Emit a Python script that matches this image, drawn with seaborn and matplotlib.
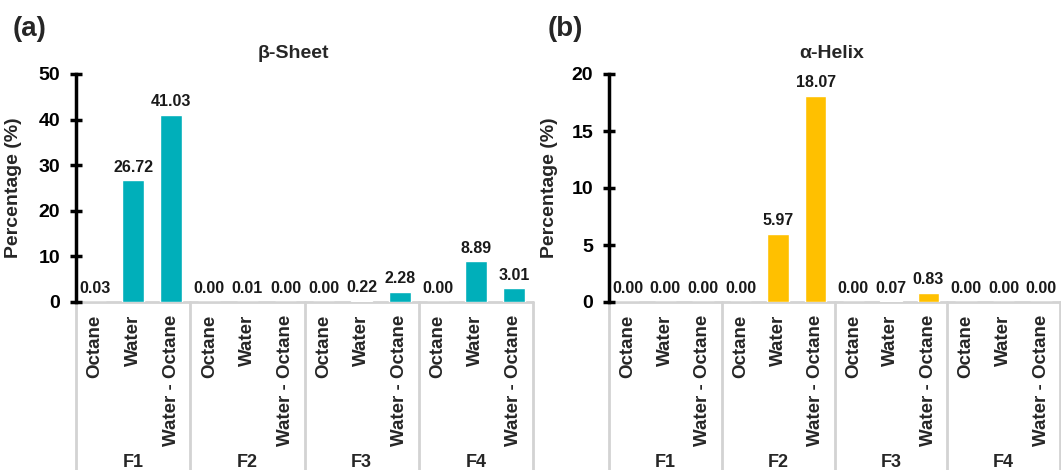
import numpy as np
import pandas as pd
import matplotlib
matplotlib.use("Agg")
import matplotlib.pyplot as plt
import matplotlib.transforms as mtransforms
import seaborn as sns

# data
groups = ["F1", "F2", "F3", "F4"]
solvents = ["Octane", "Water", "Water - Octane"]
beta_sheet = [0.03, 26.72, 41.03, 0.00, 0.01, 0.00, 0.00, 0.22, 2.28, 0.00, 8.89, 3.01]
alpha_helix = [0.00, 0.00, 0.00, 0.00, 5.97, 18.07, 0.00, 0.07, 0.83, 0.00, 0.00, 0.00]

sns.set_theme(style="white")
plt.rcParams["font.family"] = ["Liberation Sans", "DejaVu Sans"]
plt.rcParams["font.weight"] = "bold"

W, H = 1061, 470
fig = plt.figure(figsize=(W / 100, H / 100), dpi=100)


def px_axes(left, right, top, bottom):
    # pixel box -> figure fraction
    return [left / W, (H - bottom) / H, (right - left) / W, (bottom - top) / H]


def panel(box, values, color, ymax, ystep, title, title_x, letter, letter_x, ylab_x):
    ax = fig.add_axes(box)
    keys = [f"{g} {s}" for g in groups for s in solvents]
    df = pd.DataFrame({"key": keys, "val": values})
    sns.barplot(data=df, x="key", y="val", order=keys, color=color,
                saturation=1, width=0.57, ax=ax)
    ax.bar_label(ax.containers[0], labels=[f"{v:.2f}" for v in values],
                 padding=4, fontsize=11.5, fontweight="bold", color="#1a1a1a")

    n = len(keys)
    ax.set_xlim(-0.5, n - 0.5)
    ax.set_ylim(0, ymax)
    ax.set_yticks(np.arange(0, ymax + 1, ystep))
    ax.set_xticks([])
    ax.set_xlabel("")
    ax.set_ylabel("Percentage (%)", fontsize=14, fontweight="bold")
    ax.yaxis.set_label_coords(ylab_x, 0.5)
    for s in ["top", "right", "bottom"]:
        ax.spines[s].set_visible(False)
    ax.spines["left"].set_color("black")
    ax.spines["left"].set_linewidth(2.5)
    ax.tick_params(axis="y", direction="inout", length=9, width=2.5, pad=7,
                   labelsize=14, colors="black", left=True)
    for t in ax.get_yticklabels():
        t.set_fontweight("bold")

    # grouped category axis
    trans = mtransforms.blended_transform_factory(ax.transData, ax.transAxes)
    ax.plot([-0.5, n - 0.5], [0, 0], transform=trans, color="#d3d3d3",
            lw=2, clip_on=False, zorder=0)
    for b in np.arange(-0.5, n, 3):
        ax.plot([b, b], [0, -0.9], transform=trans, color="#d3d3d3",
                lw=2, clip_on=False, zorder=0)
    for i, k in enumerate(keys):
        ax.text(i, -0.055, solvents[i % 3], transform=trans, rotation=90,
                ha="center", va="top", fontsize=13.5, fontweight="bold")
    for gi, g in enumerate(groups):
        ax.text(gi * 3 + 1, -0.722, g, transform=trans, ha="center",
                va="baseline", fontsize=13, fontweight="bold")

    fig.text(title_x / W, 1 - 53 / H, title, ha="center", va="center",
             fontsize=14, fontweight="bold")
    fig.text(letter_x / W, 1 - 29 / H, letter, ha="center", va="center",
             fontsize=20, fontweight="bold")
    return ax


panel(px_axes(76, 533, 74, 302), beta_sheet, "#00AFBA", 50, 10,
      "β-Sheet", 293, "(a)", 30, -0.118)
panel(px_axes(609, 1060, 74, 302), alpha_helix, "#FFC000", 20, 5,
      "α-Helix", 832, "(b)", 565, -0.113)

fig.savefig("out.png", dpi=100)
